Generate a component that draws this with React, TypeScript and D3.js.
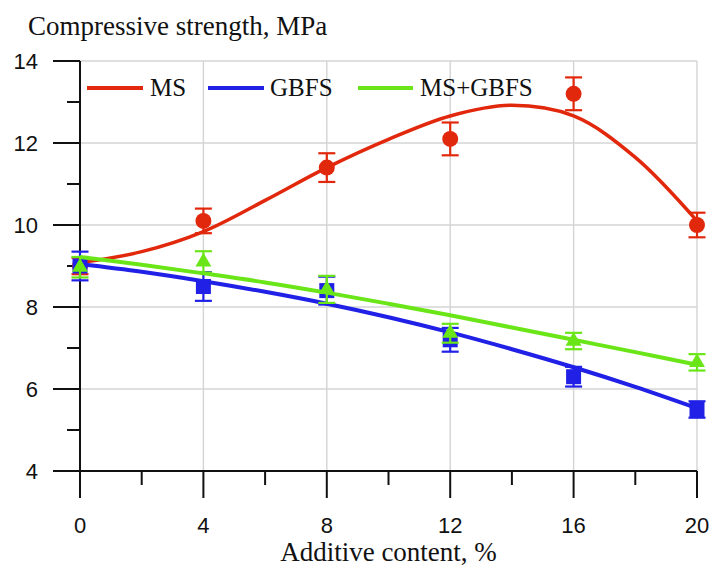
import { useRef, useEffect } from "react";
import * as d3 from "d3";

// measured points
const additive = [0, 4, 8, 12, 16, 20];
const msMean = [9.0, 10.1, 11.4, 12.1, 13.2, 10.0];
const msErr = [0.2, 0.3, 0.35, 0.4, 0.4, 0.3];
const gbfsMean = [9.0, 8.5, 8.4, 7.2, 6.3, 5.5];
const gbfsErr = [0.35, 0.35, 0.34, 0.29, 0.24, 0.2];
const mixMean = [8.97, 9.1, 8.43, 7.36, 7.17, 6.65];
const mixErr = [0.25, 0.26, 0.33, 0.23, 0.2, 0.2];

// fitted trend lines
const fitX = [0, 2, 4, 6, 8, 10, 12, 14, 16, 18, 20];
const msFit = [9.08, 9.35, 9.84, 10.6, 11.4, 12.09, 12.66, 12.92, 12.66, 11.65, 10.1];
const gbfsFit = [9.05, 8.86, 8.63, 8.37, 8.08, 7.75, 7.38, 6.97, 6.53, 6.05, 5.53];
const mixFit = [9.22, 9.03, 8.82, 8.6, 8.35, 8.08, 7.8, 7.5, 7.2, 6.9, 6.59];

const xTicks = [0, 4, 8, 12, 16, 20];
const yTicks = [4, 6, 8, 10, 12, 14];
const legendNames = ["MS", "GBFS", "MS+GBFS"];

const RED = "#e2280c";
const BLUE = "#2020e6";
const GREEN = "#6ae618";

const Chart = () => {
  const svgRef = useRef(null);

  useEffect(() => {
    if (!svgRef.current) return;
    const width = 713;
    const height = 568;
    const svg = d3
      .select(svgRef.current)
      .attr("width", width)
      .attr("height", height);
    svg.selectAll("*").remove();

    const x = d3.scaleLinear().domain([0, 20]).range([80, 697]);
    const y = d3.scaleLinear().domain([4, 14]).range([471, 61]);

    //  GRID
    const grid = svg.append("g").attr("stroke", "#d4d4d4").attr("stroke-width", 1.4);
    grid
      .selectAll("line.v")
      .data(xTicks.slice(1))
      .join("line")
      .attr("x1", (d) => x(d))
      .attr("x2", (d) => x(d))
      .attr("y1", y(14))
      .attr("y2", y(4));
    grid
      .selectAll("line.h")
      .data(yTicks.slice(1))
      .join("line")
      .attr("x1", x(0))
      .attr("x2", x(20))
      .attr("y1", (d) => y(d))
      .attr("y2", (d) => y(d));

    //  AXES
    const axes = svg.append("g").attr("stroke", "#111").attr("stroke-width", 2);
    axes.append("line").attr("x1", x(0)).attr("x2", x(0)).attr("y1", y(14)).attr("y2", y(4) + 27);
    axes.append("line").attr("x1", x(0) - 27).attr("x2", x(20)).attr("y1", y(4)).attr("y2", y(4));
    axes
      .selectAll("line.ym")
      .data(d3.range(4, 15, 1))
      .join("line")
      .attr("x1", (d) => x(0) - (d % 2 === 0 ? 27 : 13))
      .attr("x2", x(0))
      .attr("y1", (d) => y(d))
      .attr("y2", (d) => y(d));
    axes
      .selectAll("line.xm")
      .data(d3.range(0, 21, 2))
      .join("line")
      .attr("x1", (d) => x(d))
      .attr("x2", (d) => x(d))
      .attr("y1", y(4))
      .attr("y2", (d) => y(4) + (d % 4 === 0 ? 27 : 14));

    const tickFont = svg
      .append("g")
      .attr("font-family", "'Liberation Sans', Arial, sans-serif")
      .attr("font-size", 22)
      .attr("fill", "#111");
    tickFont
      .selectAll("text.y")
      .data(yTicks)
      .join("text")
      .attr("x", 38)
      .attr("y", (d) => y(d))
      .attr("dy", "0.35em")
      .attr("text-anchor", "end")
      .text((d) => d);
    tickFont
      .selectAll("text.x")
      .data(xTicks)
      .join("text")
      .attr("x", (d) => x(d))
      .attr("y", 533)
      .attr("text-anchor", "middle")
      .text((d) => d);

    const serif = "'Liberation Serif', 'Times New Roman', serif";
    svg
      .append("text")
      .attr("x", 28)
      .attr("y", 35)
      .attr("font-family", serif)
      .attr("font-size", 27)
      .attr("fill", "#111")
      .text("Compressive strength, MPa");
    svg
      .append("text")
      .attr("x", (x(0) + x(20)) / 2)
      .attr("y", 561)
      .attr("text-anchor", "middle")
      .attr("font-family", serif)
      .attr("font-size", 27)
      .attr("fill", "#111")
      .text("Additive content, %");

    //  SERIES
    const line = d3
      .line<number>()
      .x((_, i) => x(fitX[i]))
      .y((d) => y(d))
      .curve(d3.curveCatmullRom);

    const series = [
      { fit: msFit, mean: msMean, err: msErr, color: RED, sym: d3.symbolCircle, size: 200, w: 3.5 },
      { fit: gbfsFit, mean: gbfsMean, err: gbfsErr, color: BLUE, sym: d3.symbolSquare, size: 225, w: 4 },
      { fit: mixFit, mean: mixMean, err: mixErr, color: GREEN, sym: d3.symbolTriangle, size: 110, w: 4 },
    ];

    series.forEach((s) => {
      const g = svg.append("g");
      g.append("path")
        .attr("d", line(s.fit))
        .attr("fill", "none")
        .attr("stroke", s.color)
        .attr("stroke-width", s.w);

      const eb = g.append("g").attr("stroke", s.color).attr("stroke-width", 2.2);
      additive.forEach((a, i) => {
        const cx = x(a);
        const top = y(s.mean[i] + s.err[i]);
        const bot = y(s.mean[i] - s.err[i]);
        eb.append("line").attr("x1", cx).attr("x2", cx).attr("y1", top).attr("y2", bot);
        eb.append("line").attr("x1", cx - 8.5).attr("x2", cx + 8.5).attr("y1", top).attr("y2", top);
        eb.append("line").attr("x1", cx - 8.5).attr("x2", cx + 8.5).attr("y1", bot).attr("y2", bot);
      });

      g.selectAll("path.m")
        .data(additive)
        .join("path")
        .attr("d", d3.symbol().type(s.sym).size(s.size)() as string)
        .attr("transform", (a, i) => `translate(${x(a)},${y(s.mean[i])})`)
        .attr("fill", s.color);
    });

    //  LEGEND
    const legendPos = [
      { x1: 87, x2: 143, tx: 150, color: RED },
      { x1: 208, x2: 264, tx: 270, color: BLUE },
      { x1: 358, x2: 413, tx: 420, color: GREEN },
    ];
    const legend = svg.append("g");
    legendNames.forEach((name, i) => {
      const p = legendPos[i];
      legend
        .append("line")
        .attr("x1", p.x1)
        .attr("x2", p.x2)
        .attr("y1", 88)
        .attr("y2", 88)
        .attr("stroke", p.color)
        .attr("stroke-width", 4);
      legend
        .append("text")
        .attr("x", p.tx)
        .attr("y", 96)
        .attr("font-family", serif)
        .attr("font-size", 25)
        .attr("fill", "#111")
        .text(name);
    });
  }, []);

  return <svg ref={svgRef} style={{ position: "absolute", left: 0, top: 0 }} />;
};

export default function App() {
  return <Chart />;
}
